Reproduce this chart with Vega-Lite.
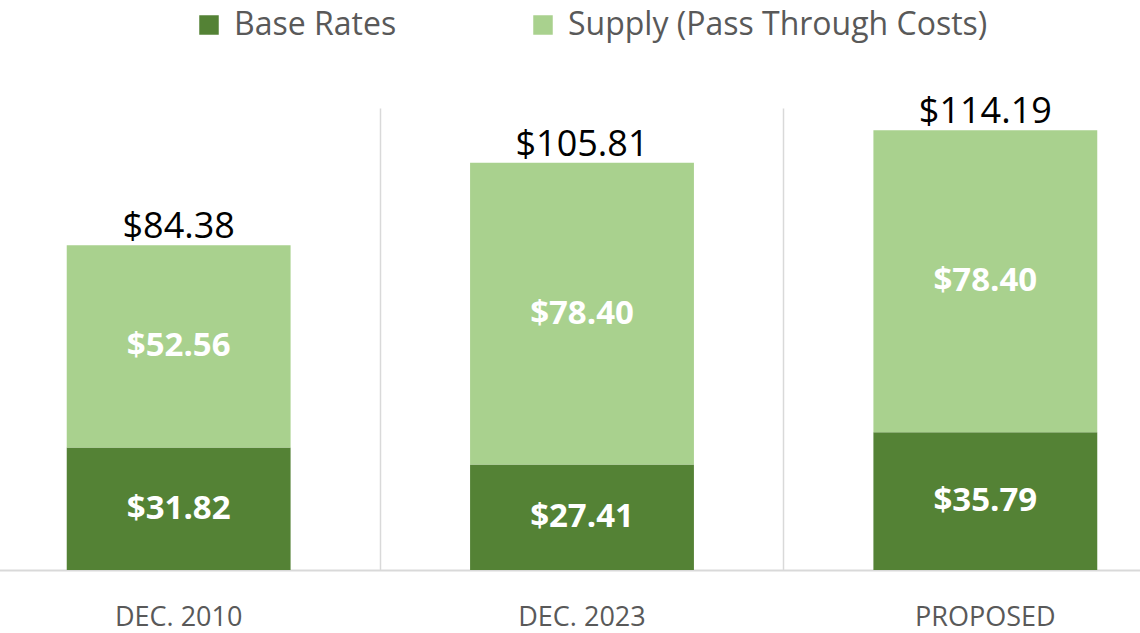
{
  "$schema": "https://vega.github.io/schema/vega-lite/v6.json",
  "width": 1140,
  "height": 462,
  "autosize": "none",
  "padding": {"left": 0, "top": 108, "right": 0, "bottom": 63},
  "background": "white",
  "config": {"view": {"stroke": null}, "font": "Open Sans"},
  "data": {
    "values": [
      {"period": "DEC. 2010", "series": "Base Rates", "value": 31.82},
      {"period": "DEC. 2010", "series": "Supply (Pass Through Costs)", "value": 52.56},
      {"period": "DEC. 2023", "series": "Base Rates", "value": 27.41},
      {"period": "DEC. 2023", "series": "Supply (Pass Through Costs)", "value": 78.40},
      {"period": "PROPOSED", "series": "Base Rates", "value": 35.79},
      {"period": "PROPOSED", "series": "Supply (Pass Through Costs)", "value": 78.40}
    ]
  },
  "encoding": {
    "x": {
      "field": "period",
      "type": "nominal",
      "sort": ["DEC. 2010", "DEC. 2023", "PROPOSED"],
      "scale": {"range": [-23, 1187], "paddingInner": 0.445, "paddingOuter": 0.2225},
      "axis": {
        "title": null,
        "labelAngle": 0,
        "ticks": false,
        "grid": true,
        "bandPosition": -0.4,
        "gridColor": "#d9d9d9",
        "gridWidth": 1.5,
        "domainColor": "#d9d9d9",
        "domainWidth": 2,
        "labelFontSize": 27,
        "labelColor": "#595959",
        "labelPadding": 47,
        "labelBaseline": "middle",
        "labelFont": "Open Sans"
      }
    }
  },
  "layer": [
    {
      "mark": {"type": "bar"},
      "encoding": {
        "y": {"field": "value", "type": "quantitative", "stack": "zero", "scale": {"domain": [0, 120]}, "axis": null},
        "order": {"field": "series", "sort": "ascending"},
        "color": {
          "field": "series",
          "type": "nominal",
          "scale": {"domain": ["Base Rates", "Supply (Pass Through Costs)"], "range": ["#548235", "#A9D18E"]},
          "legend": {
            "title": null,
            "orient": "none",
            "direction": "horizontal",
            "legendX": 193,
            "legendY": -99,
            "symbolType": "square",
            "symbolSize": 380,
            "symbolStrokeWidth": 0,
            "labelFontSize": 32,
            "labelLimit": 800,
            "labelColor": "#595959",
            "labelFont": "Open Sans",
            "labelOffset": 9,
            "columnPadding": 130
          }
        }
      }
    },
    {
      "mark": {"type": "text", "color": "white", "fontWeight": "bold", "fontSize": 33, "font": "Open Sans", "baseline": "middle"},
      "encoding": {
        "y": {"field": "value", "type": "quantitative", "stack": "zero", "bandPosition": 0.5},
        "order": {"field": "series", "sort": "ascending"},
        "detail": {"field": "series"},
        "text": {"field": "value", "type": "quantitative", "format": "$.2f"}
      }
    },
    {
      "transform": [{"aggregate": [{"op": "sum", "field": "value", "as": "total"}], "groupby": ["period"]}],
      "mark": {"type": "text", "color": "black", "fontSize": 36, "font": "Open Sans", "baseline": "alphabetic", "dy": -7},
      "encoding": {
        "y": {"field": "total", "type": "quantitative"},
        "text": {"field": "total", "type": "quantitative", "format": "$.2f"}
      }
    }
  ]
}
